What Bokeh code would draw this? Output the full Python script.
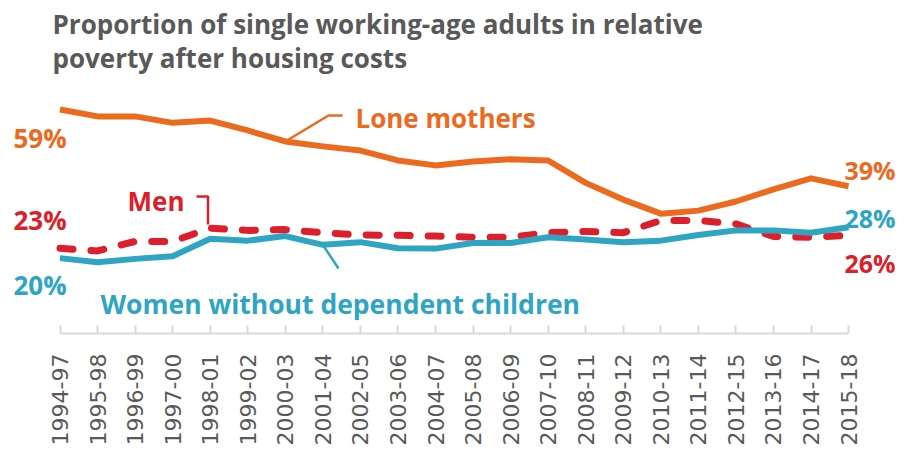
from math import pi
from bokeh.plotting import figure
from bokeh.models import Range1d, FixedTicker, Label
from bokeh.embed import file_html
from bokeh.resources import INLINE

# ---------------- data ----------------
years = ["1994-97", "1995-98", "1996-99", "1997-00", "1998-01", "1999-02",
         "2000-03", "2001-04", "2002-05", "2003-06", "2004-07", "2005-08",
         "2006-09", "2007-10", "2008-11", "2009-12", "2010-13", "2011-14",
         "2012-15", "2013-16", "2014-17", "2015-18"]
lone_mothers = [59.2, 57.4, 57.4, 55.7, 56.3, 53.7, 50.8, 49.5, 48.4, 45.8, 44.5,
                45.5, 46.1, 45.8, 39.9, 35.5, 31.8, 32.6, 35.0, 38.2, 41.1, 39.0]
men = [22.7, 22.0, 24.5, 24.5, 28.0, 27.4, 27.6, 26.8, 26.2, 26.1, 25.9,
       25.6, 25.6, 26.8, 27.1, 26.8, 30.0, 30.0, 29.1, 25.8, 25.6, 26.1]
women = [20.1, 19.0, 19.9, 20.6, 25.2, 24.7, 25.9, 23.6, 24.3, 22.7, 22.6,
         24.1, 24.1, 25.6, 25.0, 24.3, 24.7, 26.2, 27.4, 27.4, 26.8, 28.2]
start_labels = ["59%", "23%", "20%"]
end_labels = ["39%", "28%", "26%"]
title_lines = ["Proportion of single working-age adults in relative",
               "poverty after housing costs"]

ORANGE = "#EC6A1E"
RED = "#DC1F2B"
TEAL = "#2EA5C3"
GREY = "#595959"
AXIS = "#D9D9D9"

# ---------------- layout helpers (page px -> data) ----------------
W, H = 898, 448
OFF = 0              # page offset of the canvas
K = 37.55            # px per category
X0 = 59.5            # page x of first category
XS = -(X0 - OFF) / K
XE = XS + W / K
YK = 3.8             # px per percentage point
FRAME_BOTTOM = 333   # page y of the x axis
TXT = -8             # vertical correction for text baselines
def px(page_x):
    return XS + (page_x - OFF) / K
def py(page_y):
    return 20 + (258 - page_y) / YK
YS, YE = py(FRAME_BOTTOM), py(OFF)

idx = list(range(len(years)))

p = figure(width=W, height=H, output_backend="svg", toolbar_location=None,
           x_range=Range1d(XS, XE), y_range=Range1d(YS, YE),
           y_axis_location=None, min_border_left=0, min_border_right=0,
           min_border_top=0, min_border_bottom=H - (FRAME_BOTTOM - OFF))
p.outline_line_color = None
p.xgrid.visible = False
p.ygrid.visible = False
p.background_fill_color = "white"
p.border_fill_color = "white"

ax = p.xaxis[0]
ax.ticker = FixedTicker(ticks=idx)
ax.major_label_overrides = {i: y for i, y in zip(idx, years)}
ax.bounds = (0, len(years) - 1)
ax.axis_line_color = AXIS
ax.axis_line_width = 2
ax.major_tick_line_color = AXIS
ax.major_tick_line_width = 2
ax.major_tick_in = 8
ax.major_tick_out = 0
ax.minor_tick_line_color = None
ax.major_label_orientation = pi / 2
ax.major_label_standoff = 20
ax.major_label_text_font = "DejaVu Sans"
ax.major_label_text_font_size = "22px"
ax.major_label_text_color = GREY

# series
p.line(idx, men, line_color=RED, line_width=7, line_dash="13 18", line_cap="round")
p.line(idx, women, line_color=TEAL, line_width=6, line_join="round")
p.line(idx, lone_mothers, line_color=ORANGE, line_width=6, line_join="round")

# leader lines
p.line([6, px(328), px(342)], [lone_mothers[6], py(115), py(115)],
       line_color=ORANGE, line_width=2.5)
p.line([px(196), px(207.5), px(207.5)], [py(196), py(196), py(224)],
       line_color=RED, line_width=2.5)
p.line([7, px(338)], [women[7], py(268)], line_color=TEAL, line_width=2.5)

def add_label(text, page_x, page_y, color, size="26px", font="Open Sans"):
    p.add_layout(Label(x=px(page_x), y=py(page_y + TXT), text=text, text_font=font,
                       text_font_size=size, text_font_style="bold",
                       text_color=color, text_baseline="alphabetic",
                       text_align="left"))

add_label(title_lines[0], 52, 31, GREY, size="26px")
add_label(title_lines[1], 52, 65, GREY, size="26px")

add_label("Lone mothers", 355, 125, ORANGE)
add_label("Men", 127, 208, RED)
add_label("Women without dependent children", 100, 311, TEAL, size="26.5px")

for t, yy, c in zip(start_labels, [145, 227, 292], [ORANGE, RED, TEAL]):
    add_label(t, 13, yy, c)
for t, yy, c in zip(end_labels, [177, 225, 270], [ORANGE, TEAL, RED]):
    add_label(t, 844, yy, c, size="25px")

open("out.html", "w").write(file_html(p, INLINE))
